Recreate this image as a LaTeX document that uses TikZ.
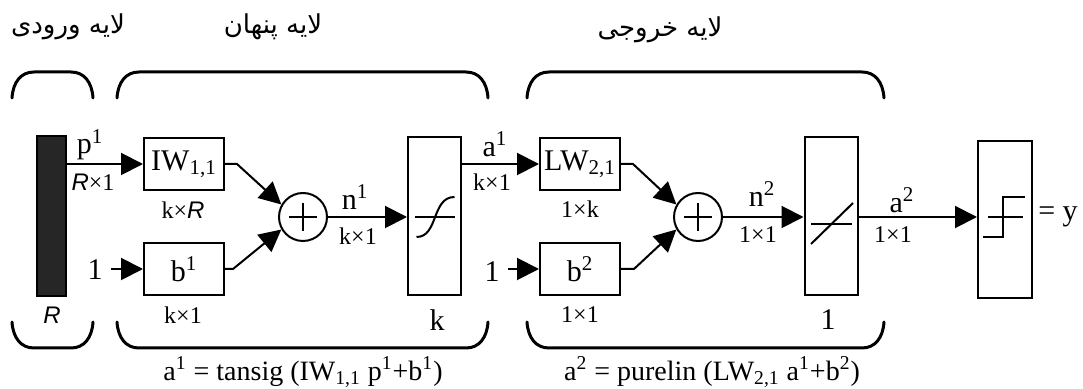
\documentclass[tikz,border=0pt]{standalone}
\usepackage{fontspec}
\setmainfont{Liberation Serif}
\newfontfamily\farsifont[Script=Arabic]{DejaVu Sans}
\newfontfamily\dimsans{Liberation Sans}
\TeXXeTstate=1
\usetikzlibrary{arrows.meta,calc}
\tikzset{
    wbox/.style={
        draw, line width=1pt, inner sep=0pt,
        minimum width=40pt, minimum height=26pt,
        font=\fontsize{15}{15}\selectfont
    },
    fbox/.style={
        draw, line width=1pt, inner sep=0pt,
        minimum width=26.5pt, minimum height=79pt
    },
    sumnode/.style={draw, circle, line width=1pt, inner sep=0pt, minimum size=24pt},
    arr/.style={line width=1pt, -{Triangle[length=11pt,width=11pt]}},
    sig/.style={inner sep=0pt, font=\fontsize{15}{15}\selectfont},
    dim/.style={inner sep=0pt, font=\fontsize{12}{12}\selectfont},
    layer/.style={inner sep=0pt, font=\farsifont\fontsize{13}{13}\selectfont},
    eqn/.style={inner sep=0pt, font=\fontsize{14}{14}\selectfont},
    brace/.style={line width=1.5pt, line cap=round},
    icon/.style={line width=1pt}
}
\newcommand{\Rdim}{{\dimsans\itshape R}}

\begin{document}
\begin{tikzpicture}[x=0.5pt, y=-0.5pt]
                \useasboundingbox (0,0) rectangle (1083,389);

                % layer titles
                \node[layer] (tin) at (68,27) {\beginR لایه ورودی\endR};
                \node[layer] (thid) at (273,27) {\beginR لایه پنهان\endR};
                \node[layer] (tout) at (660,30) {\beginR لایه خروجی\endR};

                % braces above and below each layer
                \foreach \xa/\xb in {12/93, 117/488, 527/884} {
                    \draw[brace] (\xa,98) .. controls (\xa+1,82) and (\xa+9,72) .. (\xa+22,72)
                        -- (\xb-22,72) .. controls (\xb-9,72) and (\xb-1,82) .. (\xb,98);
                    \draw[brace] (\xa,322) .. controls (\xa+1,338) and (\xa+9,348) .. (\xa+22,348)
                        -- (\xb-22,348) .. controls (\xb-9,348) and (\xb-1,338) .. (\xb,322);
                }

                % blocks
                \node[draw, fill=black!85, line width=1pt, inner sep=0pt,
                      minimum width=14.5pt, minimum height=80pt] (bar) at (51.5,216) {};
                \node[wbox] (iw) at (184,164) {IW\textsubscript{1,1}};
                \node[wbox] (bone) at (184,269) {b\textsuperscript{1}};
                \node[sumnode] (sumone) at (303,217) {};
                \node[fbox] (tsig) at (434.5,216) {};
                \node[wbox] (lw) at (580,164) {LW\textsubscript{2,1}};
                \node[wbox] (btwo) at (580,269) {b\textsuperscript{2}};
                \node[sumnode] (sumtwo) at (698,217) {};
                \node[fbox] (plin) at (831,216) {};
                \node[fbox, minimum height=78.5pt, minimum width=27pt] (hlim) at (1005,219.5) {};

                % plus signs
                \foreach \s in {sumone, sumtwo} {
                    \draw[icon] ($(\s)+(-14,0)$) -- ($(\s)+(14,0)$);
                    \draw[icon] ($(\s)+(0,-14)$) -- ($(\s)+(0,14)$);
                }

                % transfer function icons
                \draw[icon] ($(tsig)+(-20,1)$) -- ($(tsig)+(20,1)$);
                \draw[icon] ($(tsig)+(-18,21)$) .. controls ($(tsig)+(4,21)$) and ($(tsig)+(-3,-19)$) .. ($(tsig)+(20,-19)$);
                \draw[icon] ($(plin)+(-20,8)$) -- ($(plin)+(21,8)$);
                \draw[icon] ($(plin)+(-20,28)$) -- ($(plin)+(22,-13)$);
                \draw[icon] ($(hlim)+(-17,-2.5)$) -- ($(hlim)+(18,-2.5)$);
                \draw[icon] ($(hlim)+(-22,17.5)$) -- ($(hlim)+(-2,17.5)$)
                    -- ($(hlim)+(-2,-22.5)$) -- ($(hlim)+(20,-22.5)$);

                % inputs of value 1
                \node[sig] (onea) at (95,270) {1};
                \node[sig] (oneb) at (492,272) {1};

                % connections
                \draw[arr] (bar.east |- iw.west) -- (iw.west);
                \draw[arr] ([xshift=4pt]bone.west -| onea.east) -- (bone.west);
                \draw[arr] (iw.east) -- ++(12,0) -- (sumone.150);
                \draw[arr] (bone.east) -- ++(8,0) -- (sumone.210);
                \draw[arr] (sumone.east) -- (tsig.west |- sumone.east);
                \draw[arr] (tsig.east |- lw.west) -- (lw.west);
                \draw[arr] ([xshift=4pt]btwo.west -| oneb.east) -- (btwo.west);
                \draw[arr] (lw.east) -- ++(12,0) -- (sumtwo.150);
                \draw[arr] (btwo.east) -- ++(13,0) -- (sumtwo.210);
                \draw[arr] (sumtwo.east) -- (plin.west |- sumtwo.east);
                \draw[arr] (plin.east |- sumtwo.east) -- (hlim.west |- sumtwo.east);

                % signal names and sizes
                \node[sig] (pone) at (90,145) {p\textsuperscript{1}};
                \node[dim] (pdim) at (93,182) {\Rdim×1};
                \node[dim] (iwdim) at (183,210) {k×\Rdim};
                \node[dim] (barR) at (52,315) {\Rdim};
                \node[dim] (bonedim) at (183,315) {k×1};
                \node[sig] (none) at (355,197) {n\textsuperscript{1}};
                \node[dim] (nonedim) at (358,236) {k×1};
                \node[sig] (tsigk) at (437,320) {k};
                \node[sig] (aone) at (495,144) {a\textsuperscript{1}};
                \node[dim] (aonedim) at (492,182) {k×1};
                \node[dim] (lwdim) at (580,209) {1×k};
                \node[dim] (btwodim) at (580,315) {1×1};
                \node[sig] (ntwo) at (762,194) {n\textsuperscript{2}};
                \node[dim] (ntwodim) at (758,235) {1×1};
                \node[sig] (plinone) at (828,320) {1};
                \node[sig] (atwo) at (902,200) {a\textsuperscript{2}};
                \node[dim] (atwodim) at (893,235) {1×1};
                \node[sig] (yout) at (1058,217) {= y};

                % layer equations
                \node[eqn] (eqone) at (303,372) {a\textsuperscript{1} = tansig (IW\textsubscript{1,1} p\textsuperscript{1}+b\textsuperscript{1})};
                \node[eqn] (eqtwo) at (712,372) {a\textsuperscript{2} = purelin (LW\textsubscript{2,1} a\textsuperscript{1}+b\textsuperscript{2})};
\end{tikzpicture}
\end{document}
